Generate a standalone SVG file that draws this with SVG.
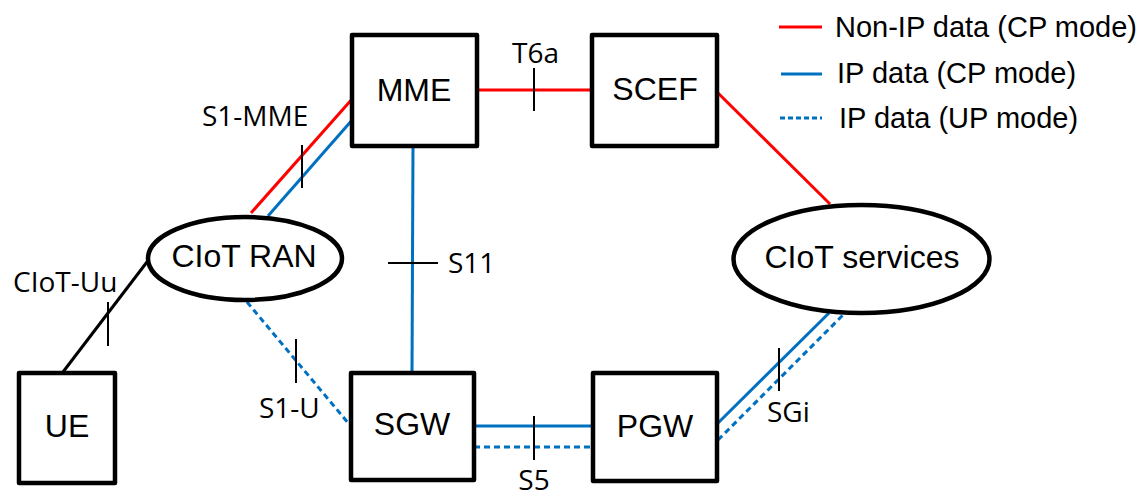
<svg xmlns="http://www.w3.org/2000/svg" width="1145" height="496" viewBox="0 0 1145 496">
<style>
.box{fill:#fff;stroke:#000;stroke-width:4.5;stroke-linejoin:round}
.ell{fill:#fff;stroke:#000;stroke-width:4.5}
.nt{font-family:"Liberation Sans",Arial,sans-serif;font-size:32px;fill:#000;text-anchor:middle}
.lt{font-family:"Open Sans","Noto Sans",sans-serif;font-size:28px;fill:#000}
.lg{font-family:"Liberation Sans",Arial,sans-serif;font-size:29px;fill:#000}
.red{stroke:#FF0000;stroke-width:3;fill:none}
.blue{stroke:#0070C0;stroke-width:3;fill:none}
.dot{stroke:#0070C0;stroke-width:3;fill:none;stroke-dasharray:6 4}
.blk{stroke:#000;stroke-width:3;fill:none}
.tick{stroke:#000;stroke-width:2;fill:none}
</style>
<rect width="1145" height="496" fill="#fff"/>
<g id="connectors">
  <line class="blk" x1="63" y1="372" x2="150" y2="258"/>
  <line class="red" x1="251" y1="213" x2="353" y2="98"/>
  <line class="blue" x1="268" y1="216" x2="353" y2="119"/>
  <line class="red" x1="477" y1="90" x2="592" y2="90"/>
  <line class="red" x1="717" y1="92" x2="830" y2="204"/>
  <line class="blue" x1="413" y1="146" x2="412" y2="373"/>
  <line class="dot" x1="247" y1="302" x2="349" y2="424"/>
  <line class="blue" x1="474" y1="426" x2="593" y2="426"/>
  <line class="dot" x1="474" y1="447" x2="593" y2="447"/>
  <line class="blue" x1="718" y1="423" x2="829" y2="313"/>
  <line class="dot" x1="718" y1="440" x2="845" y2="313"/>
  <line class="tick" x1="108" y1="302" x2="108" y2="346"/>
  <line class="tick" x1="302" y1="145" x2="302" y2="188"/>
  <line class="tick" x1="534" y1="68" x2="534" y2="111"/>
  <line class="tick" x1="388" y1="263" x2="438" y2="263"/>
  <line class="tick" x1="296" y1="339" x2="296" y2="383"/>
  <line class="tick" x1="534" y1="416" x2="534" y2="460"/>
  <line class="tick" x1="779" y1="348" x2="779" y2="391"/>
  <text class="lt" x="13" y="292">CIoT-Uu</text>
  <text class="lt" x="202" y="126">S1-MME</text>
  <text class="lt" x="512" y="63">T6a</text>
  <text class="lt" x="448" y="273">S11</text>
  <text class="lt" x="259" y="418">S1-U</text>
  <text class="lt" x="534" y="490" text-anchor="middle">S5</text>
  <text class="lt" x="767" y="422">SGi</text>
</g>
<g id="MME"><rect class="box" x="352" y="35" width="125" height="111"/><text class="nt" x="414" y="101">MME</text></g>
<g id="SCEF"><rect class="box" x="592" y="35" width="125" height="111"/><text class="nt" x="655" y="100">SCEF</text></g>
<g id="CIoT-RAN"><ellipse class="ell" cx="245" cy="258.5" rx="97" ry="41.5"/><text class="nt" x="244" y="267">CIoT RAN</text></g>
<g id="CIoT-services"><ellipse class="ell" cx="861.5" cy="259" rx="128" ry="54"/><text class="nt" x="862" y="268">CIoT services</text></g>
<g id="UE"><rect class="box" x="19" y="373" width="96" height="110"/><text class="nt" x="67" y="437">UE</text></g>
<g id="SGW"><rect class="box" x="351" y="373" width="123" height="107"/><text class="nt" x="412" y="435">SGW</text></g>
<g id="PGW"><rect class="box" x="593" y="373" width="124" height="108"/><text class="nt" x="655" y="437">PGW</text></g>
<g id="legend">
  <line class="red" x1="779" y1="27" x2="822" y2="27"/>
  <text class="lg" x="835" y="37">Non-IP data (CP mode)</text>
  <line class="blue" x1="781" y1="74" x2="822" y2="74"/>
  <text class="lg" x="837" y="83">IP data (CP mode)</text>
  <line class="dot" x1="780" y1="118" x2="822" y2="118" style="stroke-dasharray:5 3"/>
  <text class="lg" x="839" y="128">IP data (UP mode)</text>
</g>
</svg>
